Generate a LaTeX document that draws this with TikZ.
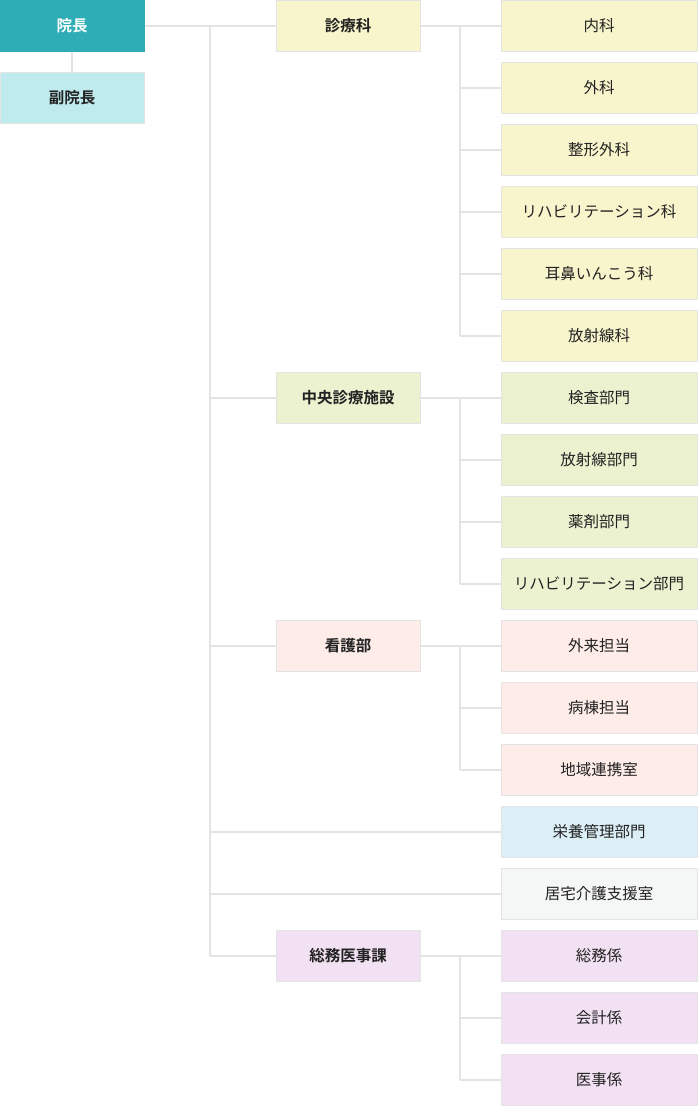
\documentclass[tikz,border=0pt]{standalone}
\usepackage{fontspec}
\setmainfont{Noto Sans CJK JP}
\newfontfamily\jpbold{Noto Sans CJK JP Bold}
\definecolor{teal1}{HTML}{2FADB7}
\definecolor{cyan1}{HTML}{C0EBEE}
\definecolor{yel}{HTML}{F8F4CB}
\definecolor{grn}{HTML}{ECF2D0}
\definecolor{pnk}{HTML}{FDECE8}
\definecolor{blu}{HTML}{DCEFF6}
\definecolor{gry}{HTML}{F5F6F6}
\definecolor{pur}{HTML}{F2E1F3}
\definecolor{edge}{HTML}{E4E4E4}
\definecolor{txt}{HTML}{222222}
\newcommand{\lowertext}[1]{\raisebox{-1.8pt}{#1}}
\tikzset{
  box/.style={draw=edge, line width=1pt, inner sep=0pt, minimum height=51pt, text=txt, font=\fontsize{15.5}{17}\selectfont},
  topbox/.style={box, minimum width=144pt, font=\jpbold\fontsize{15.5}{17}\selectfont},
  midbox/.style={box, minimum width=144pt, font=\jpbold\fontsize{15.5}{17}\selectfont},
  leafbox/.style={box, minimum width=196pt},
  conn/.style={draw=edge, line width=2pt},
}
\begin{document}
\begin{tikzpicture}[x=1pt,y=-1pt]
\useasboundingbox (0,0) rectangle (697,1106);
% top
\node[topbox, fill=teal1, draw=teal1, text=white] (inchou) at (72,25.5) {\lowertext{院長}};
\node[topbox, fill=cyan1] (fuku) at (72,97.5) {\lowertext{副院長}};
% level 2
\node[midbox, fill=yel] (shinryo) at (348,25.5) {\lowertext{診療科}};
\node[midbox, fill=grn] (chuo) at (348,397.5) {\lowertext{中央診療施設}};
\node[midbox, fill=pnk] (kango) at (348,645.5) {\lowertext{看護部}};
\node[midbox, fill=pur] (somu) at (348,955.5) {\lowertext{総務医事課}};
% level 3
\node[leafbox, fill=yel] (l1) at (599,25.5) {\lowertext{内科}};
\node[leafbox, fill=yel] (l2) at (599,87.5) {\lowertext{外科}};
\node[leafbox, fill=yel] (l3) at (599,149.5) {\lowertext{整形外科}};
\node[leafbox, fill=yel] (l4) at (599,211.5) {\lowertext{リハビリテーション科}};
\node[leafbox, fill=yel] (l5) at (599,273.5) {\lowertext{耳鼻いんこう科}};
\node[leafbox, fill=yel] (l6) at (599,335.5) {\lowertext{放射線科}};
\node[leafbox, fill=grn] (l7) at (599,397.5) {\lowertext{検査部門}};
\node[leafbox, fill=grn] (l8) at (599,459.5) {\lowertext{放射線部門}};
\node[leafbox, fill=grn] (l9) at (599,521.5) {\lowertext{薬剤部門}};
\node[leafbox, fill=grn] (l10) at (599,583.5) {\lowertext{リハビリテーション部門}};
\node[leafbox, fill=pnk] (l11) at (599,645.5) {\lowertext{外来担当}};
\node[leafbox, fill=pnk] (l12) at (599,707.5) {\lowertext{病棟担当}};
\node[leafbox, fill=pnk] (l13) at (599,769.5) {\lowertext{地域連携室}};
\node[leafbox, fill=blu] (l14) at (599,831.5) {\lowertext{栄養管理部門}};
\node[leafbox, fill=gry] (l15) at (599,893.5) {\lowertext{居宅介護支援室}};
\node[leafbox, fill=pur] (l16) at (599,955.5) {\lowertext{総務係}};
\node[leafbox, fill=pur] (l17) at (599,1017.5) {\lowertext{会計係}};
\node[leafbox, fill=pur] (l18) at (599,1079.5) {\lowertext{医事係}};
% connectors
\coordinate (tr) at (210,0);
\coordinate (sb) at (460,0);
\draw[conn] (inchou.south) -- (fuku.north);
\draw[conn] (inchou.east) -- (shinryo.west);
\draw[conn] (tr |- inchou.east) -- (tr |- somu.west);
\foreach \n in {chuo,kango,somu} \draw[conn] (tr |- \n.west) -- (\n.west);
\foreach \n in {l14,l15} \draw[conn] (tr |- \n.west) -- (\n.west);
% sub trunks
\draw[conn] (shinryo.east) -- (l1.west);
\draw[conn] (sb |- l1.west) -- (sb |- l6.west);
\foreach \n in {l2,l3,l4,l5,l6} \draw[conn] (sb |- \n.west) -- (\n.west);
\draw[conn] (chuo.east) -- (l7.west);
\draw[conn] (sb |- l7.west) -- (sb |- l10.west);
\foreach \n in {l8,l9,l10} \draw[conn] (sb |- \n.west) -- (\n.west);
\draw[conn] (kango.east) -- (l11.west);
\draw[conn] (sb |- l11.west) -- (sb |- l13.west);
\foreach \n in {l12,l13} \draw[conn] (sb |- \n.west) -- (\n.west);
\draw[conn] (somu.east) -- (l16.west);
\draw[conn] (sb |- l16.west) -- (sb |- l18.west);
\foreach \n in {l17,l18} \draw[conn] (sb |- \n.west) -- (\n.west);
\end{tikzpicture}
\end{document}
